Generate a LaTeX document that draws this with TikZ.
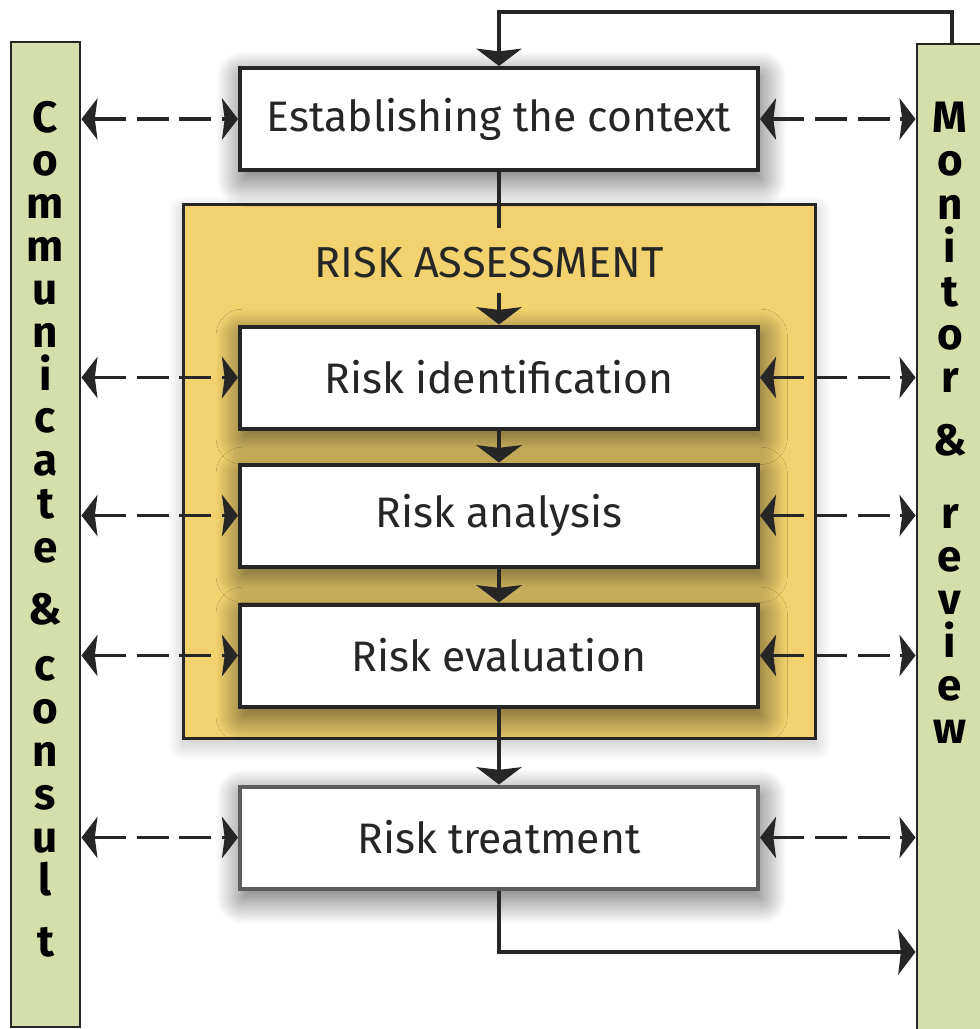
\documentclass[tikz,border=0pt]{standalone}
\usepackage{fontspec}
\setmainfont{Fira Sans}
\usetikzlibrary{arrows.meta,shadows.blur,calc}
\definecolor{barfill}{HTML}{D4DFAB}
\definecolor{yel}{HTML}{F1D26E}
\definecolor{ink}{HTML}{262626}
\begin{document}
\begin{tikzpicture}[x=0.75pt,y=-0.75pt,
  conn/.style={draw=ink, line width=2.6pt},
  tip/.style={-{Stealth[length=13pt,width=34pt,inset=2pt]}},
  dash2/.style={conn, dash pattern=on 24pt off 8pt, {Stealth[length=12pt,width=31pt,inset=2pt]}-{Stealth[length=12pt,width=31pt,inset=2pt]}},
  bar/.style={draw=ink, line width=2.2pt, fill=barfill, inner sep=0pt},
  stepbox/.style={draw=ink, line width=3pt, fill=white, minimum width=388.5pt, minimum height=76.5pt, inner sep=0pt,
    font=\fontsize{32}{38}\selectfont, text=ink,
    blur shadow={shadow xshift=2pt, shadow yshift=-7pt, shadow blur radius=20pt, shadow blur steps=40, shadow opacity=65}},
  barletter/.style={anchor=base, font=\fontsize{33}{40}\selectfont\bfseries, inner sep=0pt, text=black},
]
\useasboundingbox (0,0) rectangle (979,1029);
% side bars
\node[bar, minimum width=51.75pt, minimum height=738.75pt] (cc) at (45.5,534.5) {};
\node[bar, minimum width=54.75pt, minimum height=762pt] (mr) at (953.5,552) {};
% risk assessment frame
\node[draw=ink, line width=2.4pt, fill=yel, minimum width=474pt, minimum height=400.5pt, inner sep=0pt,
  blur shadow={shadow xshift=0pt, shadow yshift=-5pt, shadow blur radius=12pt, shadow blur steps=30, shadow opacity=25}] (ra) at (499.5,471.5) {};
\node[font=\fontsize{32.5}{38}\selectfont, text=ink] (ratitle) at (489,263) {RISK ASSESSMENT};
% step boxes
\node[stepbox] (est) at (499,119) {Establishing the context};
\node[stepbox] (rid) at (499,377.5) {Risk identification};
\node[stepbox] (ran) at (499,515.5) {Risk analysis};
\node[stepbox] (rev) at (499,655.5) {Risk evaluation};
\node[stepbox, draw=ink!75] (rt) at (499,837.5) {Risk treatment};
% vertical flow
\coordinate (a1) at (499,228);
\coordinate (a2) at (499,293);
\draw[conn] (est.south) -- (a1);
\draw[conn, tip] (a2) -- (rid.north);
\draw[conn, tip] (rid.south) -- (ran.north);
\draw[conn, tip] (ran.south) -- (rev.north);
\draw[conn, tip] (rev.south) -- (rt.north);
\coordinate (b1) at (499,952);
\draw[conn, tip] (rt.south) -- (b1) -- (b1 -| mr.west);
\coordinate (t1) at (952,12);
\draw[conn, tip] (t1 |- mr.north) -- (t1) -- (t1 -| est.north) -- (est.north);
% dashed links
\foreach \b in {est,rid,ran,rev,rt}{
  \draw[dash2] (cc.east |- \b.west) -- (\b.west);
  \draw[dash2] (\b.east) -- (mr.west |- \b.east);
}
% bar letters
\foreach \ch/\yy [count=\i] in {C/132,o/175,m/218,m/261,u/304,n/347,i/390,c/432,a/475,t/518,e/562,{\&}/624,c/680,o/723,n/766,s/809,u/852,l/895,t/956}
  \node[barletter] (cl\i) at (45.5,\yy) {\ch};
\foreach \ch/\yy [count=\i] in {M/132,o/175,n/219,i/262,t/306,o/349,r/392,{\&}/455,r/528,e/571,v/614,i/657,e/700,w/743}
  \node[barletter] (mr\i) at (950,\yy) {\ch};
\end{tikzpicture}
\end{document}
